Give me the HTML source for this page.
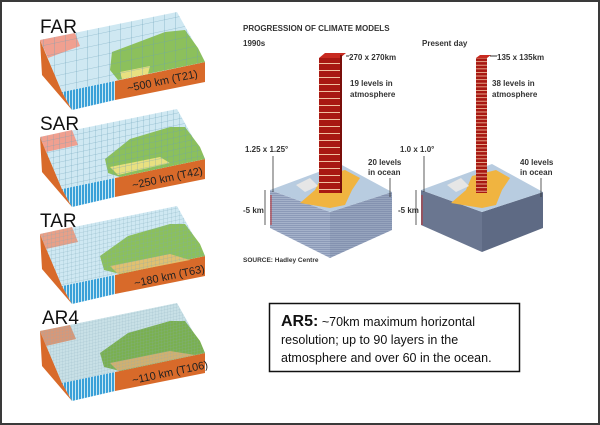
<!DOCTYPE html>
<html><head><meta charset="utf-8"><style>
html,body{margin:0;padding:0;background:#fff}
#f{position:relative;width:596px;height:421px;border:2px solid #3a3a3a;overflow:hidden;background:#fff}
svg{position:absolute;left:-2px;top:-2px}
.h{font-family:"Liberation Sans",sans-serif;font-weight:bold;fill:#333}
</style></head><body><div id="f">
<svg width="600" height="425" viewBox="0 0 600 425" xmlns="http://www.w3.org/2000/svg">
<defs>
<pattern id="g1" width="11" height="11" patternUnits="userSpaceOnUse" patternTransform="skewY(-12)"><path d="M11 0V11M0 11H11" stroke="#6aa0b8" stroke-width="0.6" fill="none"/></pattern>
<pattern id="g2" width="6" height="6" patternUnits="userSpaceOnUse" patternTransform="skewY(-12)"><path d="M6 0V6M0 6H6" stroke="#6aa0b8" stroke-width="0.5" fill="none"/></pattern>
<pattern id="g3" width="4" height="4" patternUnits="userSpaceOnUse" patternTransform="skewY(-12)"><path d="M4 0V4M0 4H4" stroke="#7aa8b8" stroke-width="0.4" fill="none"/></pattern>
<pattern id="g4" width="3" height="3" patternUnits="userSpaceOnUse" patternTransform="skewY(-12)"><path d="M3 0V3M0 3H3" stroke="#88aab8" stroke-width="0.3" fill="none"/></pattern>
<pattern id="v" width="3" height="4" patternUnits="userSpaceOnUse"><rect width="3" height="4" fill="#3aa0d8"/><rect width="1" height="4" fill="#c8e8f4"/></pattern>
<pattern id="st" width="4" height="2" patternUnits="userSpaceOnUse"><rect width="4" height="2" fill="#8c9ab8"/><rect width="4" height="0.7" fill="#b0bcd2"/></pattern>
<pattern id="tw" width="20" height="7" patternUnits="userSpaceOnUse"><rect width="20" height="7" fill="#a81812"/><rect width="20" height="1" fill="#f0c0a0"/></pattern>
<pattern id="tw2" width="20" height="3.6" patternUnits="userSpaceOnUse"><rect width="20" height="3.6" fill="#a81812"/><rect width="20" height="0.8" fill="#f0c0a0"/></pattern>
</defs>

<!-- blocks -->
<g id="b1">
<polygon points="40,40 62,92 72,110 42,75" fill="#d86a2a"/>
<polygon points="62,92 115,81 115,100 72,110" fill="url(#v)"/>
<polygon points="115,81 205,62 205,82 115,100" fill="#d86a2a"/>
<polygon points="40,40 177,12 205,62 62,92" fill="#cfe8f2"/>
<polygon points="40,40 75,33 80,46 48,58" fill="#f0a090"/>
<polygon points="112,52 165,32 185,30 198,48 205,62 118,80 110,70" fill="#8cc05c"/>
<polygon points="120,72 150,66 148,74 122,79" fill="#e8e080"/>
<polygon points="40,40 177,12 205,62 62,92" fill="url(#g1)"/>
</g>
<text x="40" y="33" font-family="Liberation Sans,sans-serif" font-size="19" fill="#111">FAR</text>
<text transform="translate(128,92) rotate(-12)" font-family="Liberation Sans,sans-serif" font-size="11" fill="#222">~500 km (T21)</text>

<g transform="translate(0,97)">
<polygon points="40,40 62,92 72,110 42,75" fill="#d86a2a"/>
<polygon points="62,92 115,81 115,100 72,110" fill="url(#v)"/>
<polygon points="115,81 205,62 205,82 115,100" fill="#d86a2a"/>
<polygon points="40,40 177,12 205,62 62,92" fill="#cfe8f2"/>
<polygon points="40,40 72,33 78,48 46,55" fill="#f0a090"/>
<polygon points="105,62 130,42 170,30 185,30 200,50 205,62 120,80 108,76" fill="#8cc05c"/>
<polygon points="110,70 160,60 170,66 118,78" fill="#e8e080"/>
<polygon points="40,40 177,12 205,62 62,92" fill="url(#g2)"/>
</g>
<text x="40" y="130" font-family="Liberation Sans,sans-serif" font-size="19" fill="#111">SAR</text>
<text transform="translate(133,189) rotate(-12)" font-family="Liberation Sans,sans-serif" font-size="11" fill="#222">~250 km (T42)</text>

<g transform="translate(0,194)">
<polygon points="40,40 62,92 72,110 42,75" fill="#d86a2a"/>
<polygon points="62,92 115,81 115,100 72,110" fill="url(#v)"/>
<polygon points="115,81 205,62 205,82 115,100" fill="#d86a2a"/>
<polygon points="40,40 177,12 205,62 62,92" fill="#cfe8f2"/>
<polygon points="40,40 72,33 78,48 46,55" fill="#e8a088"/>
<polygon points="100,62 128,42 170,30 185,30 200,50 205,62 120,80 104,76" fill="#8cc05c"/>
<polygon points="110,72 170,60 190,66 118,80" fill="#e0c070"/>
<polygon points="40,40 177,12 205,62 62,92" fill="url(#g3)"/>
</g>
<text x="40" y="227" font-family="Liberation Sans,sans-serif" font-size="19" fill="#111">TAR</text>
<text transform="translate(135,287) rotate(-12)" font-family="Liberation Sans,sans-serif" font-size="11" fill="#222">~180 km (T63)</text>

<g transform="translate(0,291)">
<polygon points="40,40 62,92 72,110 42,75" fill="#d86a2a"/>
<polygon points="62,92 115,81 115,100 72,110" fill="url(#v)"/>
<polygon points="115,81 205,62 205,82 115,100" fill="#d86a2a"/>
<polygon points="40,40 177,12 205,62 62,92" fill="#c8e0e6"/>
<polygon points="40,40 70,34 76,48 46,55" fill="#d89878"/>
<polygon points="100,62 128,42 170,30 185,30 200,50 205,62 120,80 104,76" fill="#7ab050"/>
<polygon points="110,72 170,60 195,64 118,80" fill="#d0b070"/>
<polygon points="40,40 177,12 205,62 62,92" fill="url(#g4)"/>
</g>
<text x="42" y="324" font-family="Liberation Sans,sans-serif" font-size="19" fill="#111">AR4</text>
<text transform="translate(133,384) rotate(-12)" font-family="Liberation Sans,sans-serif" font-size="11" fill="#222">~110 km (T106)</text>

<!-- right diagram -->
<text x="243" y="31" class="h" font-size="8">PROGRESSION OF CLIMATE MODELS</text>
<text x="243" y="46" class="h" font-size="8">1990s</text>
<text x="422" y="46" class="h" font-size="8">Present day</text>

<!-- box 1 -->
<polygon points="270,190 330,212 330,258 270,228" fill="url(#st)"/>
<polygon points="330,212 392,192 392,230 330,258" fill="url(#st)"/>
<polygon points="330,212 392,192 392,230 330,258" fill="#6c7a98" opacity="0.25"/>
<polygon points="270,190 340,164 392,192 330,212" fill="#b8cce0"/>
<polygon points="300,203 315,190 322,176 345,170 360,178 352,190 345,205 330,208 318,206" fill="#f0b440"/>
<polygon points="296,185 310,178 318,186 305,192" fill="#e6e6e6"/>
<rect x="319" y="58" width="21" height="135" fill="url(#tw)"/>
<polygon points="319,58 325,53 346,53 340,58" fill="#c82a20"/>
<rect x="340" y="55" width="2" height="138" fill="#7a0e0a"/>
<line x1="346" y1="56" x2="349" y2="56" stroke="#333"/>
<text x="349" y="60" class="h" font-size="8">270 x 270km</text>
<text x="350" y="86" class="h" font-size="8">19 levels in</text>
<text x="350" y="97" class="h" font-size="8">atmosphere</text>
<text x="245" y="152" class="h" font-size="8">1.25 x 1.25°</text>
<line x1="273" y1="156" x2="273" y2="192" stroke="#333" stroke-width="0.8"/>
<line x1="271" y1="195" x2="271" y2="225" stroke="#c03030" stroke-width="1"/>
<line x1="265" y1="190" x2="265" y2="225" stroke="#333" stroke-width="0.8"/>
<text x="243" y="213" class="h" font-size="8">-5 km</text>
<text x="368" y="165" class="h" font-size="8">20 levels</text>
<text x="368" y="175" class="h" font-size="8">in ocean</text>
<line x1="390" y1="178" x2="390" y2="197" stroke="#333" stroke-width="0.8"/>
<text x="243" y="262" class="h" font-size="6.5" fill="#555">SOURCE: Hadley Centre</text>

<!-- box 2 -->
<polygon points="421,190 482,212 482,252 421,225" fill="#6a7690"/>
<polygon points="482,212 543,192 543,228 482,252" fill="#5e6a84"/>
<polygon points="421,190 492,164 543,192 482,212" fill="#b8cce0"/>
<polygon points="451,203 466,190 472,176 496,170 510,178 502,190 496,205 482,208 469,206" fill="#f0b440"/>
<polygon points="447,185 461,178 469,186 456,192" fill="#e6e6e6"/>
<rect x="476" y="58" width="11" height="135" fill="url(#tw2)"/>
<polygon points="476,58 480,55 491,55 487,58" fill="#c82a20"/>
<line x1="490" y1="56" x2="497" y2="56" stroke="#333"/>
<text x="497" y="60" class="h" font-size="8">135 x 135km</text>
<text x="492" y="86" class="h" font-size="8">38 levels in</text>
<text x="492" y="97" class="h" font-size="8">atmosphere</text>
<text x="400" y="152" class="h" font-size="8">1.0 x 1.0°</text>
<line x1="424" y1="156" x2="424" y2="192" stroke="#333" stroke-width="0.8"/>
<line x1="422" y1="195" x2="422" y2="225" stroke="#c03030" stroke-width="1"/>
<line x1="416" y1="190" x2="416" y2="225" stroke="#333" stroke-width="0.8"/>
<text x="398" y="213" class="h" font-size="8">-5 km</text>
<text x="520" y="165" class="h" font-size="8">40 levels</text>
<text x="520" y="175" class="h" font-size="8">in ocean</text>
<line x1="541" y1="178" x2="541" y2="197" stroke="#333" stroke-width="0.8"/>

<!-- AR5 box -->
<rect x="269.5" y="303.5" width="250" height="68" fill="#fff" stroke="#111" stroke-width="1.5"/>
<text x="281" y="326" font-family="Liberation Sans,sans-serif" font-size="12.5" fill="#111"><tspan font-weight="bold" font-size="16">AR5:</tspan> ~70km maximum horizontal</text>
<text x="281" y="344" font-family="Liberation Sans,sans-serif" font-size="12.5" fill="#111">resolution; up to 90 layers in the</text>
<text x="281" y="362" font-family="Liberation Sans,sans-serif" font-size="12.5" fill="#111">atmosphere and over 60 in the ocean.</text>
</svg>
</div></body></html>
